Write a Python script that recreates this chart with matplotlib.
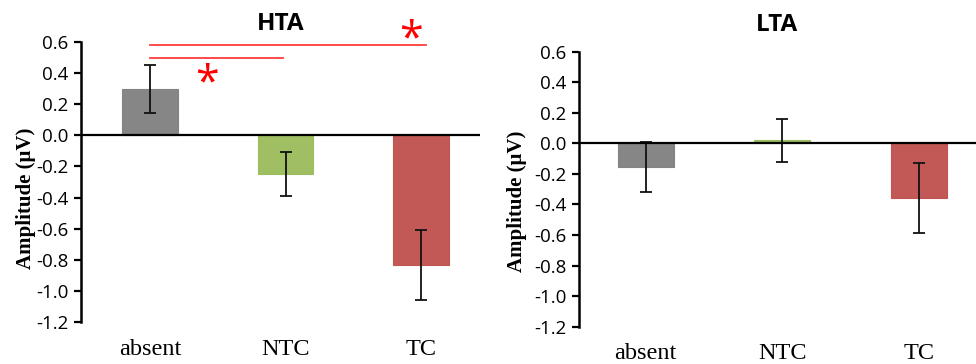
import matplotlib.pyplot as plt

# mean amplitude and error per condition, two groups
categories = ['absent', 'NTC', 'TC']
hta_means = [0.30, -0.25, -0.835]
hta_errors = [0.155, 0.14, 0.225]
lta_means = [-0.155, 0.02, -0.36]
lta_errors = [0.165, 0.14, 0.23]
y_ticks = [0.6, 0.4, 0.2, 0.0, -0.2, -0.4, -0.6, -0.8, -1.0, -1.2]

colors = ['#808080', '#9bbb59', '#c0504d']
sans = ['Open Sans', 'DejaVu Sans']
serif = ['Liberation Serif', 'DejaVu Serif']

fig = plt.figure(figsize=(9.76, 3.64), dpi=100)
ax1 = fig.add_axes([0.083, 0.1154, 0.4088, 0.7692])
ax2 = fig.add_axes([0.593, 0.1025, 0.407, 0.7555])


def draw_panel(ax, means, errors, title, xlim, title_y, label_xy):
    x = list(range(len(categories)))
    ax.bar(x, means, width=0.41, color=colors, edgecolor=colors, linewidth=0.8, alpha=0.95)
    ax.errorbar(x, means, yerr=errors, fmt='none', ecolor='#111111',
                elinewidth=1.3, capsize=4, capthick=1.3)
    ax.axhline(0, color='black', linewidth=1.6, zorder=3)
    ax.set_ylim(-1.2, 0.6)
    ax.set_xlim(*xlim)
    ax.set_yticks(y_ticks)
    ax.set_yticklabels([f'{t:.1f}' for t in y_ticks], family=sans, fontsize=13.5)
    ax.set_xticks(x)
    ax.set_xticklabels(categories, family=serif, fontsize=17.5)
    ax.tick_params(axis='x', length=0, pad=12)
    ax.tick_params(axis='y', length=5, width=1.6, direction='out', pad=4)
    for side in ['top', 'right', 'bottom']:
        ax.spines[side].set_visible(False)
    ax.spines['left'].set_linewidth(1.8)
    ax.set_ylabel('Amplitude (μV)', family=serif, fontweight='bold', fontsize=15)
    ax.yaxis.set_label_coords(*label_xy)
    ax.set_title(title, family=sans, fontweight='bold', fontsize=17.5, y=title_y)


draw_panel(ax1, hta_means, hta_errors, 'HTA', (-0.51, 2.435), 1.012, (-0.112, 0.44))
draw_panel(ax2, lta_means, lta_errors, 'LTA', (-0.49, 2.42), 1.046, (-0.13, 0.456))

# significance brackets
ax1.plot([0, 2.04], [0.578, 0.578], color='#ff3b3b', linewidth=1.3, clip_on=False)
ax1.plot([0, 0.98], [0.495, 0.495], color='#ff3b3b', linewidth=1.3, clip_on=False)
ax1.text(1.925, 0.61, '*', color='red', fontsize=31, ha='center', va='center', family=sans)
ax1.text(0.42, 0.33, '*', color='red', fontsize=31, ha='center', va='center', family=sans)

fig.savefig('out.png', dpi=100)
